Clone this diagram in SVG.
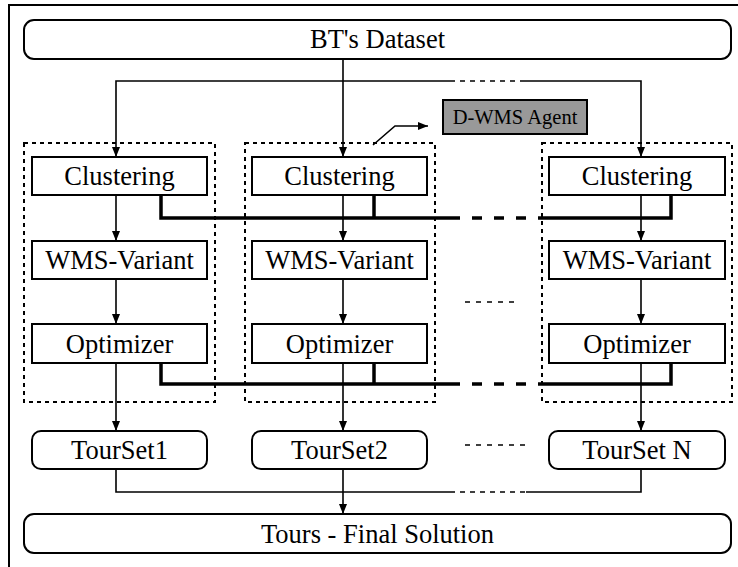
<svg xmlns="http://www.w3.org/2000/svg" width="738" height="567" viewBox="0 0 738 567">
  <defs>
    <marker id="arrow" viewBox="0 0 10 8" refX="10" refY="4" markerWidth="10" markerHeight="8" markerUnits="userSpaceOnUse" orient="auto">
      <path d="M0,0 L10,4 L0,8 Z" fill="#000"/>
    </marker>
    <style>
      text { fill: #000; text-anchor: middle; font-family: "Liberation Serif", "Times New Roman", serif; }
      .lbl { font-size: 26.5px; }
      .small { font-size: 20.5px; }
      .box { fill: #fff; stroke: #000; stroke-width: 2; }
      .agent { fill: #999; stroke: #000; stroke-width: 2; }
      .group { fill: none; stroke: #000; stroke-width: 2; stroke-dasharray: 4 4; }
      .wire { fill: none; stroke: #000; stroke-width: 1.6; }
      .wire-dash { fill: none; stroke: #000; stroke-width: 1.6; stroke-dasharray: 5 5; }
      .bus { fill: none; stroke: #000; stroke-width: 3.5; }
      .bus-dash { fill: none; stroke: #000; stroke-width: 3.5; stroke-dasharray: 10 12; }
      .gap { fill: none; stroke: #000; stroke-width: 1.6; stroke-dasharray: 5 6; }
      .arrow { marker-end: url(#arrow); }
    </style>
  </defs>

  <rect width="738" height="567" fill="#fff"/>
  <!-- outer frame -->
  <path d="M9,567 V5 H738" fill="none" stroke="#000" stroke-width="2"/>

  <!-- agent groupings -->
  <g id="agent-groups">
    <rect class="group" x="24" y="143" width="191" height="259"/>
    <rect class="group" x="245" y="143" width="190" height="259"/>
    <rect class="group" x="542" y="143" width="190" height="259"/>
  </g>

  <!-- connectors -->
  <g id="connectors">
    <!-- dataset distribution -->
    <path class="wire arrow" d="M343,59 V157"/>
    <path class="wire arrow" d="M450,81 H116 V157"/>
    <path class="wire-dash" d="M450,81 H525"/>
    <path class="wire arrow" d="M525,81 H641 V157"/>

    <!-- in-column flow -->
    <path class="wire arrow" d="M116,195 V241"/>
    <path class="wire arrow" d="M343,195 V241"/>
    <path class="wire arrow" d="M641,195 V241"/>
    <path class="wire arrow" d="M116,279 V324"/>
    <path class="wire arrow" d="M343,279 V324"/>
    <path class="wire arrow" d="M641,279 V324"/>
    <path class="wire arrow" d="M116,363 V431"/>
    <path class="wire arrow" d="M343,363 V431"/>
    <path class="wire arrow" d="M641,363 V431"/>

    <!-- clustering bus -->
    <path class="bus" d="M161,195 V218 H450"/>
    <path class="bus" d="M374,195 V218"/>
    <path class="bus-dash" d="M450,218 H541"/>
    <path class="bus" d="M541,218 H671 V195"/>

    <!-- optimizer bus -->
    <path class="bus" d="M161,363 V384 H450"/>
    <path class="bus" d="M374,363 V384"/>
    <path class="bus-dash" d="M450,384 H541"/>
    <path class="bus" d="M541,384 H671 V363"/>

    <!-- ellipses between columns -->
    <path class="gap" d="M465,302 H518"/>
    <path class="gap" d="M465,445 H528"/>

    <!-- tour collection -->
    <path class="wire" d="M116,469 V492 H450"/>
    <path class="wire-dash" d="M450,492 H526"/>
    <path class="wire" d="M526,492 H641 V469"/>
    <path class="wire arrow" d="M343,469 V514"/>

    <!-- agent pointer -->
    <path class="wire arrow" d="M373,145 L395,126 H428"/>
  </g>

  <g id="dataset">
    <rect class="box" x="24" y="20" width="707" height="39" rx="10"/>
    <text class="lbl" x="377.5" y="48">BT's Dataset</text>
  </g>

  <g id="agent-label">
    <rect class="agent" x="443" y="100" width="144" height="34"/>
    <text class="small" x="515" y="124">D-WMS Agent</text>
  </g>

  <g id="clustering-1">
    <rect class="box" x="32" y="157" width="175" height="38"/>
    <text class="lbl" x="119.5" y="185">Clustering</text>
  </g>
  <g id="clustering-2">
    <rect class="box" x="252" y="157" width="175" height="38"/>
    <text class="lbl" x="339.5" y="185">Clustering</text>
  </g>
  <g id="clustering-n">
    <rect class="box" x="549" y="157" width="176" height="38"/>
    <text class="lbl" x="637" y="185">Clustering</text>
  </g>

  <g id="wms-1">
    <rect class="box" x="32" y="241" width="175" height="38"/>
    <text class="lbl" x="119.5" y="269">WMS-Variant</text>
  </g>
  <g id="wms-2">
    <rect class="box" x="252" y="241" width="175" height="38"/>
    <text class="lbl" x="339.5" y="269">WMS-Variant</text>
  </g>
  <g id="wms-n">
    <rect class="box" x="549" y="241" width="176" height="38"/>
    <text class="lbl" x="637" y="269">WMS-Variant</text>
  </g>

  <g id="optimizer-1">
    <rect class="box" x="32" y="324" width="175" height="39"/>
    <text class="lbl" x="119.5" y="352.5">Optimizer</text>
  </g>
  <g id="optimizer-2">
    <rect class="box" x="252" y="324" width="175" height="39"/>
    <text class="lbl" x="339.5" y="352.5">Optimizer</text>
  </g>
  <g id="optimizer-n">
    <rect class="box" x="549" y="324" width="176" height="39"/>
    <text class="lbl" x="637" y="352.5">Optimizer</text>
  </g>

  <g id="tourset-1">
    <rect class="box" x="32" y="431" width="175" height="38" rx="9"/>
    <text class="lbl" x="119.5" y="459">TourSet1</text>
  </g>
  <g id="tourset-2">
    <rect class="box" x="252" y="431" width="175" height="38" rx="9"/>
    <text class="lbl" x="339.5" y="459">TourSet2</text>
  </g>
  <g id="tourset-n">
    <rect class="box" x="549" y="431" width="176" height="38" rx="9"/>
    <text class="lbl" x="637" y="459">TourSet N</text>
  </g>

  <g id="final-solution">
    <rect class="box" x="24" y="514" width="707" height="39" rx="10"/>
    <text class="lbl" x="377.5" y="542.5">Tours - Final Solution</text>
  </g>
</svg>
